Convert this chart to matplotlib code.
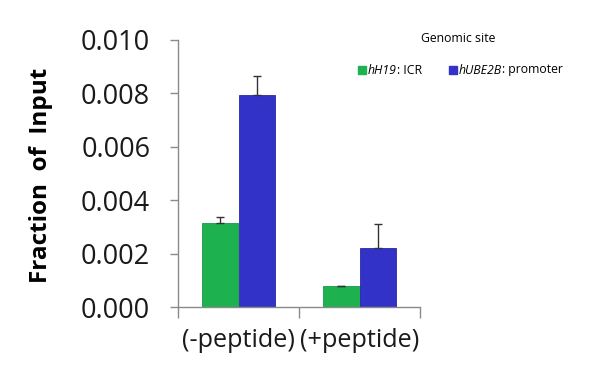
import matplotlib
matplotlib.use("Agg")
import matplotlib.pyplot as plt
import numpy as np

plt.rcParams.update({
    "font.family": ["Open Sans", "DejaVu Sans"],
})

categories = ["(-peptide)", "(+peptide)"]
series_names = ["hH19", "hUBE2B"]
series_suffix = [": ICR", ": promoter"]
h19_vals = [0.00314, 0.00078]
h19_err = [0.00022, 0.00002]
ube2b_vals = [0.00795, 0.0022]
ube2b_err = [0.0007, 0.0009]
y_ticks = [0.000, 0.002, 0.004, 0.006, 0.008, 0.010]

COL_GREEN = "#1db150"
COL_BLUE = "#3232c8"
AXIS_COL = "#8a8a8a"

fig = plt.figure(figsize=(6.12, 3.84), dpi=100)
ax = fig.add_axes([178 / 612, 77 / 384, 242 / 612, 267 / 384])

x = np.arange(len(categories)) + 0.5
w = 0.3
ekw = dict(ecolor="#333333", elinewidth=1.0, capsize=3, capthick=1.0)
ax.bar(x - w / 2, h19_vals, width=w, color=COL_GREEN,
       edgecolor="#17994a", linewidth=0.6,
       yerr=[np.zeros(len(h19_err)), h19_err], error_kw=ekw)
ax.bar(x + w / 2, ube2b_vals, width=w, color=COL_BLUE,
       edgecolor="#2a2aa8", linewidth=0.6,
       yerr=[np.zeros(len(ube2b_err)), ube2b_err], error_kw=ekw)

ax.set_xlim(0, 2)
ax.set_ylim(0, 0.010)
ax.set_yticks(y_ticks)
ax.set_yticklabels([f"{v:.3f}" for v in y_ticks], fontsize=19.5, color="#1a1a1a")
ax.set_xticks([0, 1, 2])
ax.set_xticklabels([])
ax.set_xticks(x, minor=True)
ax.set_xticklabels(categories, minor=True, fontsize=18.2, color="#1a1a1a")
ax.tick_params(axis="x", which="minor", length=0, pad=15)
ax.tick_params(axis="x", which="major", length=8, color=AXIS_COL, width=1)
ax.tick_params(axis="y", length=6, color=AXIS_COL, width=1, pad=14)

for s in ["top", "right"]:
    ax.spines[s].set_visible(False)
for s in ["left", "bottom"]:
    ax.spines[s].set_color(AXIS_COL)
    ax.spines[s].set_linewidth(1)

fig.text(41 / 612, 1 - 175 / 384, "Fraction  of  Input", rotation=90,
         ha="center", va="center", fontsize=17.5, fontweight="bold")

# legend drawn by hand to mimic the original layout
fig.text(458 / 612, 1 - 38 / 384, "Genomic site", ha="center", va="center",
         fontsize=8.8)
renderer = fig.canvas.get_renderer()
legend_items = [(358, COL_GREEN, 0), (449, COL_BLUE, 1)]
for px, col, i in legend_items:
    fig.patches.append(plt.Rectangle((px / 612, 1 - 74 / 384), 8 / 612, 8 / 384,
                                     transform=fig.transFigure, color=col))
    t = fig.text((px + 10) / 612, 1 - 70 / 384, series_names[i],
                 ha="left", va="center", fontsize=8.8, fontstyle="italic")
    bb = t.get_window_extent(renderer)
    fig.text(bb.x1 / 612, 1 - 70 / 384, series_suffix[i],
             ha="left", va="center", fontsize=8.8)

fig.savefig("out.png", dpi=100, facecolor="white")
